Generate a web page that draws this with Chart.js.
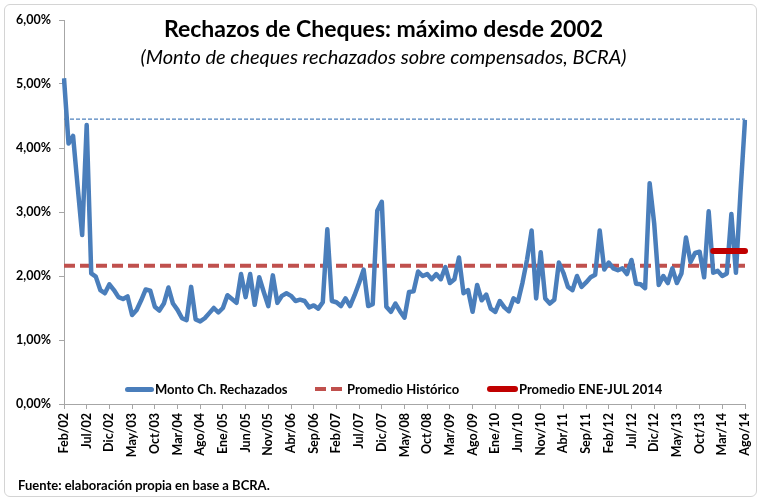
<!DOCTYPE html>
<html lang="es">
<head>
  <meta charset="UTF-8" />
  <title>Rechazos de Cheques</title>
  <script src="https://cdn.jsdelivr.net/npm/chart.js"></script>
  <style>
    body { margin: 0; background: #fff; font-family: Lato, "Open Sans", sans-serif; }
    #wrap { position: relative; width: 767px; height: 502px; overflow: hidden; }
    #chart { position: absolute; left: 0; top: 0; }
    .frame { position: absolute; left: 4px; top: 4px; width: 751px; height: 491px; border: 1px solid #d4d4d4; border-radius: 6px; }
    .txt { position: absolute; white-space: nowrap; color: #000; }
    .title { top: 14px; left: 0; width: 767px; text-align: center; font-weight: bold; font-size: 23px; }
    .subtitle { top: 44px; left: 0; width: 767px; text-align: center; font-style: italic; font-size: 20px; }
    .leg { position: absolute; top: 381px; font-weight: bold; font-size: 13px; line-height: 16px; }
    .sample { position: absolute; }
    .foot { left: 18px; top: 477px; font-weight: bold; font-size: 13px; }
  </style>
</head>
<body>
<div id="wrap">
  <canvas id="chart" width="767" height="502"></canvas>
  <div class="frame"></div>
  <div class="txt title">Rechazos de Cheques: máximo desde 2002</div>
  <div class="txt subtitle">(Monto de cheques rechazados sobre compensados, BCRA)</div>

  <div class="sample" style="left:125px; top:387px; width:29px; height:5px; border-radius:3px; background:#4a7ebb;"></div>
  <div class="txt leg" style="left:155px;">Monto Ch. Rechazados</div>
  <div class="sample" style="left:315px; top:387px; width:29px; height:4px; background:repeating-linear-gradient(90deg,#c0504d 0 11px,transparent 11px 16px);"></div>
  <div class="txt leg" style="left:347px;">Promedio Histórico</div>
  <div class="sample" style="left:487px; top:386px; width:31px; height:6px; border-radius:3px; background:#c00000;"></div>
  <div class="txt leg" style="left:519px;">Promedio ENE-JUL 2014</div>

  <div class="txt foot">Fuente: elaboración propia en base a BCRA.</div>
</div>

<script>
  // meses en castellano, serie mensual desde Feb/02 hasta Ago/14
  const months = ['Ene', 'Feb', 'Mar', 'Abr', 'May', 'Jun', 'Jul', 'Ago', 'Sep', 'Oct', 'Nov', 'Dic'];
  const firstYear = 2002, firstMonth = 1, count = 151;

  // % del monto de cheques rechazados sobre compensados
  const rechazados = [
    5.09, 4.07, 4.19, 3.40, 2.64, 4.36, 2.04, 1.99, 1.78, 1.73,
    1.87, 1.78, 1.67, 1.64, 1.68, 1.39, 1.47, 1.62, 1.79, 1.77,
    1.52, 1.46, 1.57, 1.82, 1.57, 1.47, 1.34, 1.31, 1.83, 1.32,
    1.29, 1.34, 1.42, 1.50, 1.43, 1.50, 1.70, 1.64, 1.58, 2.03,
    1.67, 2.03, 1.55, 1.98, 1.75, 1.53, 2.01, 1.58, 1.69, 1.73,
    1.69, 1.61, 1.63, 1.61, 1.51, 1.54, 1.49, 1.59, 2.73, 1.61,
    1.59, 1.53, 1.65, 1.53, 1.70, 1.89, 2.10, 1.53, 1.56, 3.02,
    3.16, 1.52, 1.44, 1.57, 1.45, 1.35, 1.75, 1.76, 2.07, 2.00,
    2.03, 1.95, 2.03, 1.95, 2.14, 1.89, 1.95, 2.29, 1.73, 1.78,
    1.44, 1.86, 1.62, 1.71, 1.49, 1.44, 1.61, 1.51, 1.45, 1.65,
    1.60, 1.90, 2.26, 2.71, 1.65, 2.37, 1.65, 1.57, 1.63, 2.21,
    2.05, 1.83, 1.78, 2.00, 1.83, 1.90, 1.98, 2.02, 2.71, 2.10,
    2.21, 2.12, 2.09, 2.12, 2.03, 2.25, 1.88, 1.87, 1.81, 3.45,
    2.82, 1.86, 2.00, 1.89, 2.12, 1.89, 2.04, 2.60, 2.22, 2.36,
    2.38, 1.98, 3.01, 2.05, 2.08, 2.00, 2.04, 2.97, 2.05, 3.30,
    4.44
  ];

  const promedioHistorico = 2.16;
  const promedio2014 = 2.39;
  const maximoActual = 4.45;
  const inicio2014 = 143; // Ene/14

  const yTicks = [0, 1, 2, 3, 4, 5, 6];

  const labels = [];
  for (let i = 0; i < count; i++) {
    const m = (firstMonth + i) % 12;
    const y = firstYear + Math.floor((firstMonth + i) / 12);
    labels.push(months[m] + '/' + String(y).slice(2));
  }

  const lineaHist = labels.map(() => promedioHistorico);
  const lineaMax = labels.map(() => maximoActual);
  const linea2014 = labels.map((_, i) => i >= inicio2014 ? promedio2014 : null);

  const axisColor = '#a6a6a6';
  const tickFont = { family: 'Lato', weight: 'bold', size: 12.5 };

  new Chart(document.getElementById('chart'), {
    type: 'line',
    data: {
      labels: labels,
      datasets: [
        {
          label: 'Máximo',
          data: lineaMax,
          borderColor: '#4f81bd',
          borderWidth: 1.3,
          borderDash: [4, 2],
          pointRadius: 0,
          order: 3
        },
        {
          label: 'Promedio Histórico',
          data: lineaHist,
          borderColor: '#c0504d',
          borderWidth: 4,
          borderDash: [11, 5],
          pointRadius: 0,
          order: 2
        },
        {
          label: 'Monto Ch. Rechazados',
          data: rechazados,
          borderColor: '#4a7ebb',
          borderWidth: 4.5,
          borderJoinStyle: 'round',
          pointRadius: 0,
          tension: 0,
          order: 1
        },
        {
          label: 'Promedio ENE-JUL 2014',
          data: linea2014,
          borderColor: '#c00000',
          borderWidth: 6,
          borderCapStyle: 'round',
          pointRadius: 0,
          order: 0
        }
      ]
    },
    options: {
      responsive: false,
      animation: false,
      layout: { padding: { top: 20, right: 22, left: 0, bottom: 0 } },
      plugins: {
        legend: { display: false },
        tooltip: { enabled: false }
      },
      scales: {
        x: {
          type: 'category',
          offset: false,
          afterFit: s => { s.height = 98; },
          border: { color: axisColor },
          grid: { drawOnChartArea: false, tickLength: 5, color: axisColor },
          ticks: {
            autoSkip: false,
            maxRotation: 90,
            minRotation: 90,
            padding: 4,
            color: '#000',
            font: tickFont,
            callback: (v, i) => i % 5 === 0 ? labels[i] : null
          }
        },
        y: {
          min: 0,
          max: 6,
          afterFit: s => { s.width = 64; },
          afterBuildTicks: s => { s.ticks = yTicks.map(v => ({ value: v })); },
          border: { color: axisColor },
          grid: { drawOnChartArea: false, tickLength: 5, color: axisColor },
          ticks: {
            padding: 8,
            color: '#000',
            font: tickFont,
            callback: v => v.toFixed(2).replace('.', ',') + '%'
          }
        }
      }
    }
  });
</script>
</body>
</html>
